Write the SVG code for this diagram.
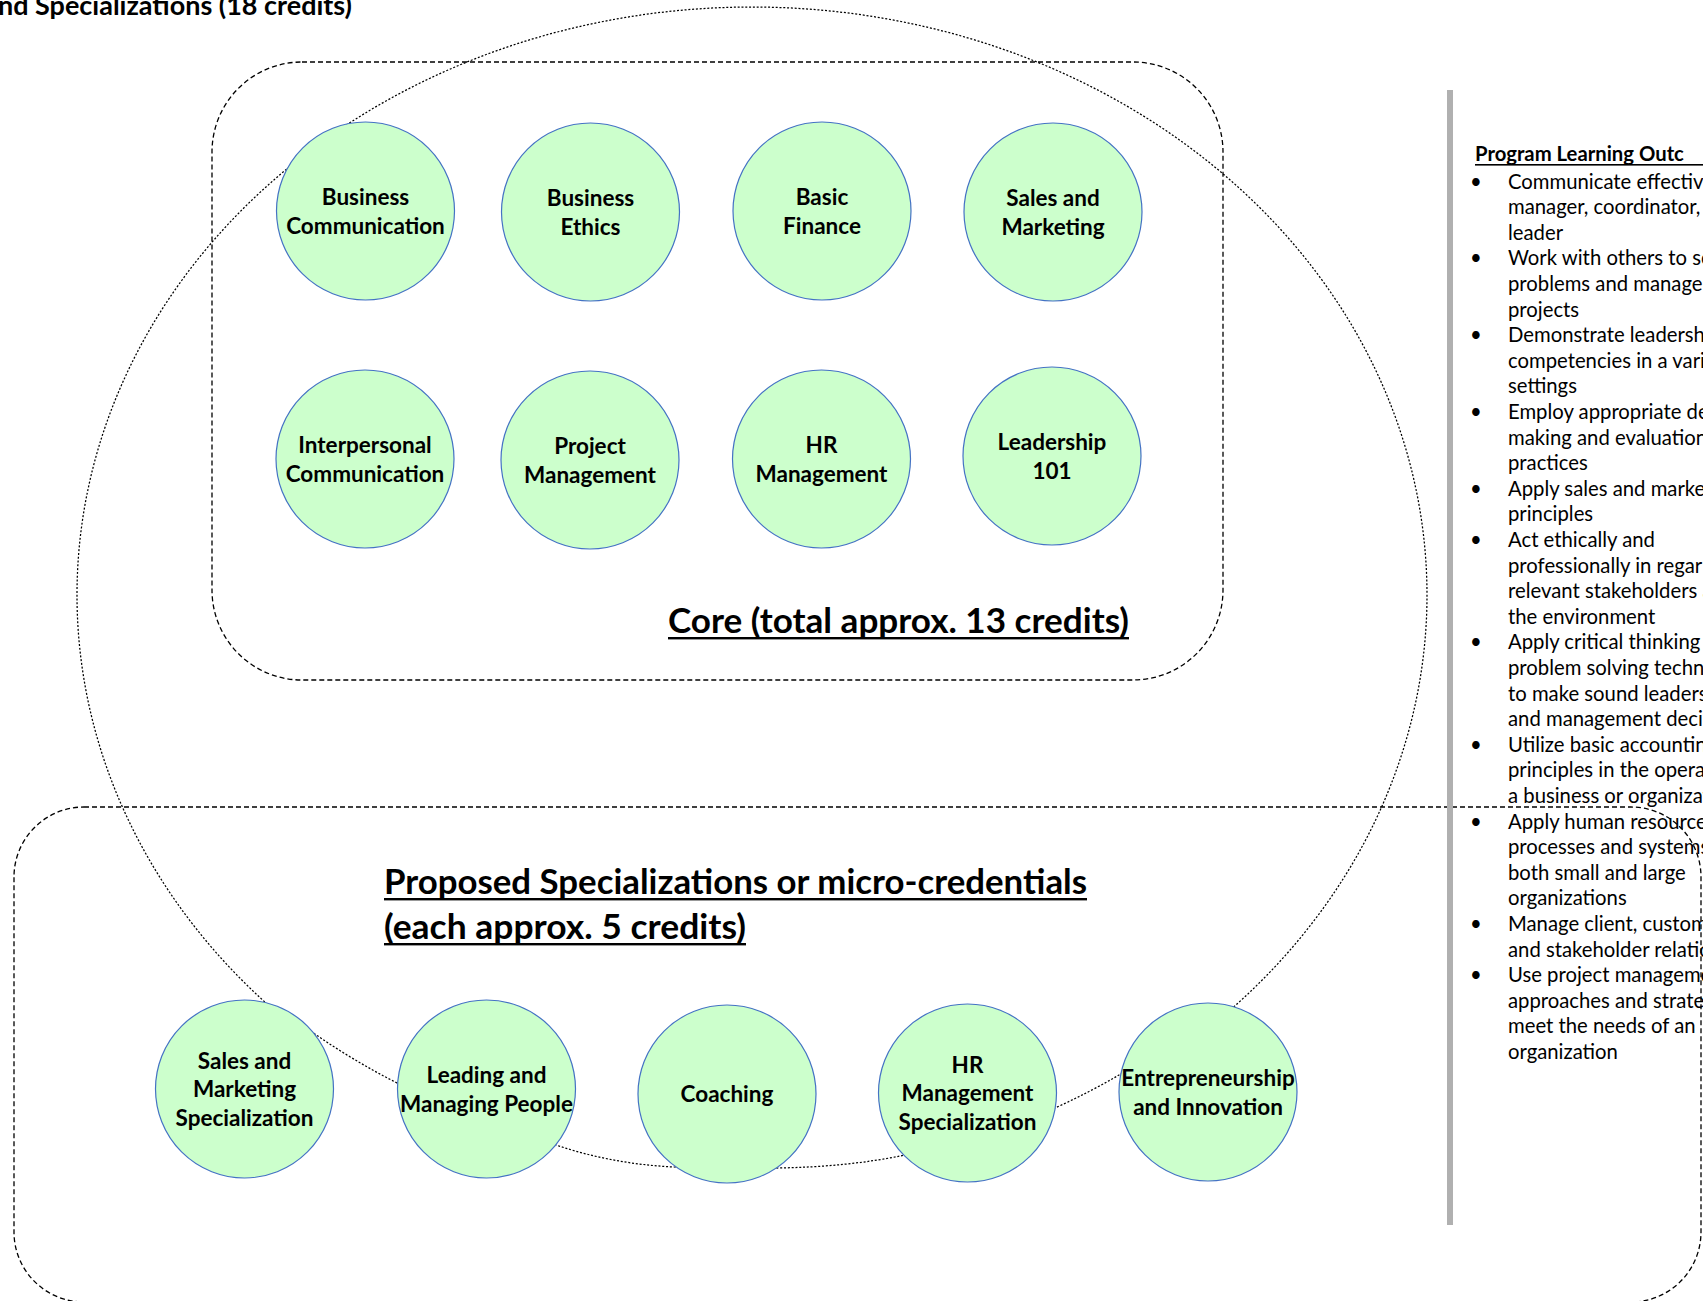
<svg xmlns="http://www.w3.org/2000/svg" width="1703" height="1301" viewBox="0 0 1703 1301">
<style>
.frame{fill:none;stroke:#000;stroke-width:1.3;stroke-dasharray:5 3}
.loop{fill:none;stroke:#000;stroke-width:1.25;stroke-dasharray:2 1.8}
.node circle{fill:#ccffcc;stroke:#4472c4;stroke-width:1.2}
.node text{font-family:Lato,"Liberation Sans",sans-serif;font-weight:700;font-size:22.5px;text-anchor:middle;fill:#000}
.big{font-family:Lato,"Liberation Sans",sans-serif;font-weight:700;font-size:34px;fill:#000}
.plo{font-family:Lato,"Liberation Sans",sans-serif;font-size:20.3px;fill:#000}
.plo-h{font-family:Lato,"Liberation Sans",sans-serif;font-size:20.3px;font-weight:700;fill:#000}
</style>
<rect width="1703" height="1301" fill="#fff"/>

<g id="frames">
<rect id="core-frame" class="frame" x="212" y="62" width="1011" height="618" rx="90" ry="90"/>
<rect id="spec-frame" class="frame" x="14" y="807" width="1687" height="495" rx="70" ry="70"/>
</g>

<g id="connectors">
<path class="loop" d="M1225,1014.5 A675,588 0 1 0 283,1017.9 L312,1032 Q352,1060 397,1083 L556,1145 Q612,1164 674,1167 L777,1168 Q848,1167 905,1155 L1055,1108 Q1090,1092 1119,1075 Z"/>
</g>

<g id="n-business-communication" class="node"><circle cx="365.5" cy="211" r="89"/><text x="365.5" y="205">Business</text><text x="365.5" y="233.5">Communication</text></g>
<g id="n-business-ethics" class="node"><circle cx="590.5" cy="212" r="89"/><text x="590.5" y="206">Business</text><text x="590.5" y="234.5">Ethics</text></g>
<g id="n-basic-finance" class="node"><circle cx="822" cy="211" r="89"/><text x="822" y="205">Basic</text><text x="822" y="233.5">Finance</text></g>
<g id="n-sales-marketing" class="node"><circle cx="1053" cy="212" r="89"/><text x="1053" y="206">Sales and</text><text x="1053" y="234.5">Marketing</text></g>
<g id="n-interpersonal" class="node"><circle cx="365" cy="459" r="89"/><text x="365" y="453">Interpersonal</text><text x="365" y="481.5">Communication</text></g>
<g id="n-project-management" class="node"><circle cx="590" cy="460" r="89"/><text x="590" y="454">Project</text><text x="590" y="482.5">Management</text></g>
<g id="n-hr-management" class="node"><circle cx="821.5" cy="459" r="89"/><text x="821.5" y="453">HR</text><text x="821.5" y="481.5">Management</text></g>
<g id="n-leadership" class="node"><circle cx="1052" cy="456" r="89"/><text x="1052" y="450">Leadership</text><text x="1052" y="478.5">101</text></g>

<g id="n-sm-spec" class="node"><circle cx="244.5" cy="1089" r="89"/><text x="244.5" y="1068.5">Sales and</text><text x="244.5" y="1097">Marketing</text><text x="244.5" y="1125.5">Specialization</text></g>
<g id="n-leading" class="node"><circle cx="486.5" cy="1089" r="89"/><text x="486.5" y="1083">Leading and</text><text x="486.5" y="1111.5">Managing People</text></g>
<g id="n-coaching" class="node"><circle cx="727" cy="1094" r="89"/><text x="727" y="1102">Coaching</text></g>
<g id="n-hr-spec" class="node"><circle cx="967.5" cy="1093" r="89"/><text x="967.5" y="1072.5">HR</text><text x="967.5" y="1101">Management</text><text x="967.5" y="1129.5">Specialization</text></g>
<g id="n-entrepreneurship" class="node"><circle cx="1208" cy="1092" r="89"/><text x="1208" y="1086">Entrepreneurship</text><text x="1208" y="1114.5">and Innovation</text></g>

<g id="labels">
<text class="big" x="-2" y="15" textLength="354" lengthAdjust="spacingAndGlyphs" style="font-size:27px">nd Specializations (18 credits)</text>
<text class="big" x="668" y="633" textLength="461" lengthAdjust="spacingAndGlyphs">Core (total approx. 13 credits)</text>
<rect x="668" y="637" width="461" height="2.4" fill="#000"/>
<text class="big" x="384" y="894" textLength="703" lengthAdjust="spacingAndGlyphs">Proposed Specializations or micro-credentials</text>
<rect x="384" y="898" width="703" height="2.4" fill="#000"/>
<text class="big" x="384" y="939" textLength="362" lengthAdjust="spacingAndGlyphs">(each approx. 5 credits)</text>
<rect x="384" y="943" width="362" height="2.4" fill="#000"/>
</g>

<g id="outcomes">
<rect x="1447" y="90" width="6" height="1135" fill="#b0b0b0"/>
<text class="plo-h" x="1475" y="161">Program Learning Outc</text>
<rect x="1475" y="164" width="228" height="1.6" fill="#000"/>
<text class="plo">
<tspan x="1470" y="188.5">•</tspan><tspan x="1508" y="188.5">Communicate effective</tspan>
<tspan x="1508" y="214.1">manager, coordinator,</tspan>
<tspan x="1508" y="239.7">leader</tspan>
<tspan x="1470" y="265.3">•</tspan><tspan x="1508" y="265.3">Work with others to so</tspan>
<tspan x="1508" y="290.9">problems and manage</tspan>
<tspan x="1508" y="316.5">projects</tspan>
<tspan x="1470" y="342.1">•</tspan><tspan x="1508" y="342.1">Demonstrate leadershi</tspan>
<tspan x="1508" y="367.7">competencies in a vari</tspan>
<tspan x="1508" y="393.3">settings</tspan>
<tspan x="1470" y="418.9">•</tspan><tspan x="1508" y="418.9">Employ appropriate de</tspan>
<tspan x="1508" y="444.5">making and evaluation</tspan>
<tspan x="1508" y="470.1">practices</tspan>
<tspan x="1470" y="495.7">•</tspan><tspan x="1508" y="495.7">Apply sales and market</tspan>
<tspan x="1508" y="521.3">principles</tspan>
<tspan x="1470" y="546.9">•</tspan><tspan x="1508" y="546.9">Act ethically and</tspan>
<tspan x="1508" y="572.5">professionally in regar</tspan>
<tspan x="1508" y="598.1">relevant stakeholders a</tspan>
<tspan x="1508" y="623.7">the environment</tspan>
<tspan x="1470" y="649.3">•</tspan><tspan x="1508" y="649.3">Apply critical thinking a</tspan>
<tspan x="1508" y="674.9">problem solving techni</tspan>
<tspan x="1508" y="700.5">to make sound leaders</tspan>
<tspan x="1508" y="726.1">and management deci</tspan>
<tspan x="1470" y="751.7">•</tspan><tspan x="1508" y="751.7">Utilize basic accounting</tspan>
<tspan x="1508" y="777.3">principles in the operat</tspan>
<tspan x="1508" y="802.9">a business or organizat</tspan>
<tspan x="1470" y="828.5">•</tspan><tspan x="1508" y="828.5">Apply human resource</tspan>
<tspan x="1508" y="854.1">processes and systems</tspan>
<tspan x="1508" y="879.7">both small and large</tspan>
<tspan x="1508" y="905.3">organizations</tspan>
<tspan x="1470" y="930.9">•</tspan><tspan x="1508" y="930.9">Manage client, custom</tspan>
<tspan x="1508" y="956.5">and stakeholder relatio</tspan>
<tspan x="1470" y="982.1">•</tspan><tspan x="1508" y="982.1">Use project manageme</tspan>
<tspan x="1508" y="1007.7">approaches and strateg</tspan>
<tspan x="1508" y="1033.3">meet the needs of an</tspan>
<tspan x="1508" y="1058.9">organization</tspan>
</text>
</g>
</svg>
